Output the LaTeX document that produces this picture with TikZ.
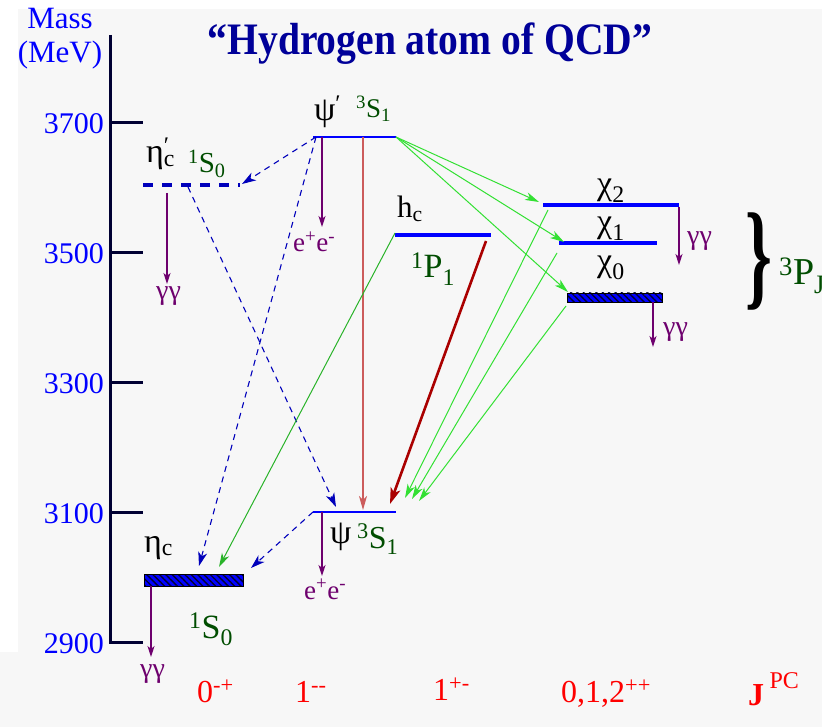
\documentclass[tikz,border=0pt]{standalone}
\usepackage{fontspec}
\setmainfont{Liberation Serif}
\usetikzlibrary{arrows.meta,patterns.meta}
\definecolor{bgGrey}{HTML}{F7F7F7}
\definecolor{lvBlue}{HTML}{0000FF}
\definecolor{dashBlue}{HTML}{0000BB}
\definecolor{titleBlue}{HTML}{000099}
\definecolor{termGreen}{HTML}{004D00}
\definecolor{trGreen}{HTML}{33E033}
\definecolor{decPurple}{HTML}{6E006E}
\definecolor{psiRed}{HTML}{CC5C5C}
\definecolor{hcRed}{HTML}{AA0000}
\definecolor{axisNavy}{HTML}{000033}
\definecolor{jpcRed}{HTML}{FF0000}
\newcommand{\fsz}[1]{\fontsize{#1}{#1}\selectfont}
\newcommand{\term}[3]{\textsuperscript{#1}#2\textsubscript{#3}}

\begin{document}
\begin{tikzpicture}[x=1pt,y=-1pt,
  lbl/.style={anchor=base west, inner sep=0pt},
  lvthin/.style={draw=lvBlue, line width=1.6pt},
  lvthick/.style={draw=lvBlue, line width=3.6pt},
  lvdash/.style={draw=dashBlue, line width=4pt, dash pattern=on 10pt off 9pt},
  lvhatch/.style={draw=black, line width=0.9pt, preaction={fill=lvBlue},
    pattern={Lines[angle=-45,distance=4.5pt,line width=1.4pt]}, pattern color=axisNavy},
  dasharr/.style={draw=dashBlue, line width=1.1pt, dash pattern=on 6pt off 5pt,
    -{Stealth[length=14pt,width=9pt,inset=4pt]}},
  greenarr/.style={draw=trGreen, line width=1pt, -{Stealth[length=14pt,width=8pt,inset=4pt]}},
  decarr/.style={draw=decPurple, line width=1.4pt, -{Stealth[length=11pt,width=7pt,inset=3pt]}},
  decay/.style={lbl, text=decPurple, font=\fsz{27}},
  greek/.style={lbl, font=\fsz{34}},
  green/.style={lbl, text=termGreen},
  jpc/.style={lbl, text=jpcRed, font=\fsz{32}}]

\fill[white] (0,0) rectangle (822,727);
\fill[bgGrey] (18,9) rectangle (822,727);
\fill[bgGrey] (0,652) rectangle (18,727);
\useasboundingbox (0,0) rectangle (822,727);

\node[anchor=base, inner sep=0pt, text=lvBlue, font=\fsz{31}] (mass) at (60,29) {Mass};
\node[anchor=base, inner sep=0pt, text=lvBlue, font=\fsz{31}] (mev) at (60,63) {(MeV)};
\node[anchor=base, inner sep=0pt, text=titleBlue, font=\fsz{45}\bfseries] (title) at (430,55) {\scalebox{0.88}[1]{“Hydrogen atom of QCD”}};

\draw[axisNavy, line width=3pt] (110,35) -- (110,644);
\foreach \m in {3700,3500,3300,3100,2900}{
  \coordinate (tick\m) at (110,{123+(3700-\m)*0.65});
  \draw[axisNavy, line width=3pt] (tick\m) -- ++(33,0);
  \node[anchor=base east, inner sep=0pt, text=lvBlue, font=\fsz{30}] (num\m) at ([shift={(-6,11)}]tick\m) {\m};
}

\coordinate (etacpL) at (143,185); \coordinate (etacpR) at (240,185);
\coordinate (psipL) at (313,137); \coordinate (psipR) at (396,137);
\coordinate (hcL) at (395,235); \coordinate (hcR) at (491,235);
\coordinate (chiTwoL) at (543,205); \coordinate (chiTwoR) at (679,205);
\coordinate (chiOneL) at (559,243); \coordinate (chiOneR) at (657,243);
\coordinate (psiL) at (313,512); \coordinate (psiR) at (396,512);

\draw[lvdash] (etacpL) -- (etacpR);
\draw[lvthin] (psipL) -- (psipR);
\draw[lvthick] (hcL) -- (hcR);
\draw[lvthick] (chiTwoL) -- (chiTwoR);
\draw[lvthick] (chiOneL) -- (chiOneR);
\draw[lvhatch] (567,293) rectangle (662,302);
\coordinate (chiZeroL) at (567,293);
\draw[lvthin] (psiL) -- (psiR);
\draw[lvhatch] (144,574) rectangle (243,586);

\coordinate (etacTipA) at (199,566);
\coordinate (etacTipB) at (219,567);
\coordinate (etacTipC) at (251,568);
\coordinate (psiTipA) at (336,507);
\coordinate (psiTipB) at (363,510);
\coordinate (psiTipC) at (390,504);

\draw[dasharr] ([xshift=3pt]psipL) -- ([shift={(2,-1)}]etacpR);
\draw[dasharr] ([xshift=3pt]psipL) -- (etacTipA);
\draw[dasharr] (188,187) -- (psiTipA);
\draw[dasharr] (psiL) -- (etacTipC);
\draw[psiRed, line width=1.5pt, -{Stealth[length=14pt,width=8pt,inset=4pt]}] (363,137) -- (psiTipB);
\draw[hcRed, line width=2.6pt, -{Stealth[length=16pt,width=10pt,inset=4pt]}] (486,241) -- (psiTipC);
\draw[greenarr, draw=trGreen!80!black] ([yshift=2pt]hcL) -- (etacTipB);

\draw[greenarr] (psipR) -- ([shift={(-4,-3)}]chiTwoL);
\draw[greenarr] (psipR) -- ([shift={(5,-1)}]chiOneL);
\draw[greenarr] (psipR) -- ([shift={(1,-1)}]chiZeroL);
\draw[greenarr] (548,210) -- (405,498);
\draw[greenarr] (557,253) -- (412,499);
\draw[greenarr] (566,306) -- (419,501);

\draw[decarr] (167,193) -- (167,284);
\draw[decarr] (322,137) -- (322,227);
\draw[decarr] (679,207) -- (679,265);
\draw[decarr] (653,302) -- (653,347);
\draw[decarr] (322,512) -- (322,576);
\draw[decarr] (151,586) -- (151,657);

\node[decay, font=\fsz{28}] (ggEtacp) at (156,300) {γγ};
\node[decay] (eeTop) at (293,252) {e\textsuperscript{+}e\textsuperscript{-}};
\node[decay, font=\fsz{28}] (ggChiTwo) at (687,245) {γγ};
\node[decay, font=\fsz{28}] (ggChiZero) at (663,335) {γγ};
\node[decay] (eeBot) at (304,599) {e\textsuperscript{+}e\textsuperscript{-}};
\node[decay, font=\fsz{28}] (ggEtac) at (140,677) {γγ};

\node[greek] (etacpName) at (146,163) {η\rlap{\textsuperscript{′}}\textsubscript{c}};
\node[green, font=\fsz{29}] (etacpTerm) at (188,173) {\term{1}{S}{0}};
\node[greek] (psipName) at (314,121) {ψ\textsuperscript{′}};
\node[green, font=\fsz{27}] (psipTerm) at (356,118) {\term{3}{S}{1}};
\node[lbl, font=\fsz{31}] (hcName) at (397,218) {h\textsubscript{c}};
\node[green, font=\fsz{34}] (hcTerm) at (411,278) {\term{1}{P}{1}};
\node[greek] (chiTwoName) at (597,195) {χ\textsubscript{2}};
\node[greek] (chiOneName) at (597,233) {χ\textsubscript{1}};
\node[greek] (chiZeroName) at (597,272) {χ\textsubscript{0}};
\node[anchor=center, inner sep=0pt] (brace) at (759,262) {\scalebox{1.1}[1.9]{\fsz{62}\bfseries\}}};
\node[green, font=\fsz{38}] (chiTerm) at (779,285) {\term{3}{P}{J}};
\node[greek] (etacName) at (144,552) {η\textsubscript{c}};
\node[greek] (psiName) at (330,543) {ψ};
\node[green, font=\fsz{32}] (psiTerm) at (357,548) {\term{3}{S}{1}};
\node[green, font=\fsz{34}] (etacTerm) at (189,638) {\term{1}{S}{0}};

\node[jpc] (jpcA) at (197,702) {0\textsuperscript{-+}};
\node[jpc] (jpcB) at (295,702) {1\textsuperscript{-{}-}};
\node[jpc] (jpcC) at (433,700) {1\textsuperscript{+-}};
\node[jpc] (jpcD) at (561,702) {0,1,2\textsuperscript{++}};
\node[jpc] (jpcE) at (748,705) {\textbf{J}\,\raisebox{17pt}{\fsz{24}PC}};
\end{tikzpicture}
\end{document}
